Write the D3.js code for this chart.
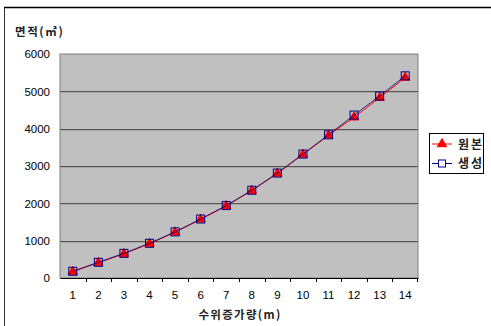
<!DOCTYPE html>
<html><head><meta charset="utf-8">
<script src="https://cdn.jsdelivr.net/npm/d3@7/dist/d3.min.js"></script>
<style>
body{margin:0;background:#fff;}
svg{display:block;}
</style></head>
<body><svg id="c" width="491" height="326"></svg>
<script>
const categories = [1,2,3,4,5,6,7,8,9,10,11,12,13,14];
const seriesNames = ["원본","생성"];
const original = [170,410,650,920,1225,1570,1930,2340,2800,3310,3820,4305,4830,5370];
const generated = [180,420,660,930,1235,1580,1940,2350,2810,3320,3835,4365,4875,5415];
const yTicks = [0,1000,2000,3000,4000,5000,6000];
const yTitle = "면적(㎡)";
const xTitle = "수위증가량(m)";

const svg = d3.select("#c");
// outer chart border
svg.append("line").attr("x1",4.5).attr("x2",4.5).attr("y1",7).attr("y2",326).attr("stroke","#333").attr("stroke-width",1);
svg.append("line").attr("x1",4).attr("x2",491).attr("y1",7.5).attr("y2",7.5).attr("stroke","#000").attr("stroke-width",1.5);

const L=60, R=418, T=54, B=278;
const x = d3.scaleBand().domain(categories).range([L,R]);
const y = d3.scaleLinear().domain([0,6000]).range([B,T]);

svg.append("rect").attr("x",L).attr("y",T).attr("width",R-L).attr("height",B-T)
  .attr("fill","#c0c0c0").attr("stroke","#808080").attr("stroke-width",1);

// gridlines
svg.append("g").selectAll("line").data(yTicks.filter(d=>d>0&&d<6000)).join("line")
  .attr("x1",L).attr("x2",R).attr("y1",d=>Math.round(y(d))+0.5).attr("y2",d=>Math.round(y(d))+0.5)
  .attr("stroke","#555").attr("stroke-width",1);
svg.append("g").selectAll("line").data(yTicks.filter(d=>d>0&&d<6000)).join("line")
  .attr("x1",L).attr("x2",R).attr("y1",d=>Math.round(y(d))+1.5).attr("y2",d=>Math.round(y(d))+1.5)
  .attr("stroke","#a8a8a8").attr("stroke-width",1);

// x axis
const xAxis = d3.axisBottom(x).tickSize(0).tickPadding(13);
const gx = svg.append("g").attr("transform",`translate(0,${B})`).call(xAxis);
gx.select(".domain").attr("stroke","#000");
gx.selectAll("text").attr("font-family","'Liberation Sans',Arial,sans-serif").attr("font-size",11.5).attr("fill","#000");
// band boundary ticks
svg.append("g").selectAll("line").data(categories.slice(1)).join("line")
  .attr("x1",d=>Math.round(x(d))+0.5).attr("x2",d=>Math.round(x(d))+0.5).attr("y1",B).attr("y2",B+4)
  .attr("stroke","#000");
svg.append("line").attr("x1",R-0.5).attr("x2",R-0.5).attr("y1",B).attr("y2",B+4).attr("stroke","#000");

// y axis
const yAxis = d3.axisLeft(y).tickValues(yTicks).tickSize(0).tickPadding(10).tickFormat(d3.format("d"));
const gy = svg.append("g").attr("transform",`translate(${L},0)`).call(yAxis);
gy.select(".domain").remove();
gy.selectAll("text").attr("font-family","'Liberation Sans',Arial,sans-serif").attr("font-size",11.5).attr("fill","#000");

// titles
svg.append("text").attr("x",15).attr("y",36).text(yTitle)
  .attr("font-family","'Noto Sans CJK KR',sans-serif").attr("font-size",11.5).attr("font-weight","bold")
  .attr("letter-spacing",1.6).attr("fill","#222");
svg.append("text").attr("x",(L+R)/2+1).attr("y",319).attr("text-anchor","middle").text(xTitle)
  .attr("font-family","'Noto Sans CJK KR',sans-serif").attr("font-size",11.5).attr("font-weight","bold")
  .attr("letter-spacing",1.3).attr("fill","#222");

const cx = d => x(d)+x.bandwidth()/2;
const lineGen = arr => d3.line().x((d,i)=>cx(categories[i])).y(d=>y(d))(arr);

// original series (red, triangles)
svg.append("path").attr("d",lineGen(original)).attr("fill","none").attr("stroke","#ff0000").attr("stroke-width",1);
const tri = d3.symbol().type(d3.symbolTriangle).size(38);
svg.append("g").selectAll("path").data(original).join("path")
  .attr("transform",(d,i)=>`translate(${cx(categories[i])},${y(d)})`).attr("d",tri())
  .attr("fill","#ff0000").attr("stroke","#ff0000");

// generated series (navy, hollow squares)
svg.append("path").attr("d",lineGen(generated)).attr("fill","none").attr("stroke","#000080").attr("stroke-width",1).attr("opacity",0.8);
svg.append("g").selectAll("rect").data(generated).join("rect")
  .attr("x",(d,i)=>cx(categories[i])-4).attr("y",d=>y(d)-4).attr("width",8).attr("height",8)
  .attr("fill","none").attr("stroke","#000080").attr("stroke-width",1);

// legend
const lg = svg.append("g");
lg.append("rect").attr("x",429.5).attr("y",133.5).attr("width",54).attr("height",40).attr("fill","#fff").attr("stroke","#000");
const ly = [144, 163];
// entry 1
lg.append("line").attr("x1",432).attr("x2",452).attr("y1",ly[0]).attr("y2",ly[0]).attr("stroke","#ff0000");
lg.append("path").attr("transform",`translate(442,${ly[0]})`).attr("d",tri()).attr("fill","#ff0000").attr("stroke","#ff0000");
// entry 2
lg.append("line").attr("x1",432).attr("x2",452).attr("y1",ly[1]+0.5).attr("y2",ly[1]+0.5).attr("stroke","#000080");
lg.append("rect").attr("x",438.5).attr("y",ly[1]-3).attr("width",7).attr("height",7).attr("fill","#fff").attr("stroke","#000080");
lg.selectAll("text.l").data(seriesNames).join("text").attr("class","l")
  .attr("x",458).attr("y",(d,i)=>ly[i]+4.5).text(d=>d)
  .attr("font-family","'Noto Sans CJK KR',sans-serif").attr("font-size",12).attr("font-weight","bold")
  .attr("letter-spacing",2).attr("fill","#222");
</script></body></html>
